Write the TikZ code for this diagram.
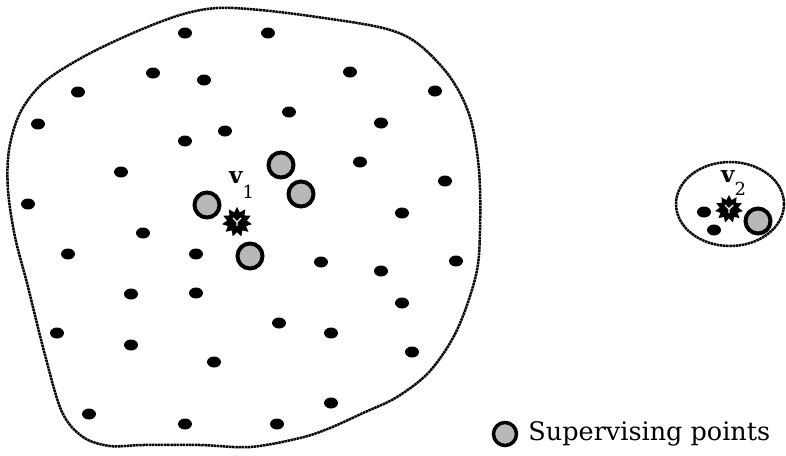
\documentclass[tikz,border=0pt]{standalone}
\usepackage{fontspec}
\usetikzlibrary{positioning,shapes.geometric}
\newfontfamily\bookfont{DejaVu Serif}
\definecolor{supgray}{HTML}{B8B8B8}

\begin{document}
\begin{tikzpicture}[x=1pt,y=-1pt,
    dot/.style={ellipse,fill=black,minimum width=14pt,minimum height=11pt,inner sep=0pt},
    sup/.style={circle,draw=black,line width=4pt,fill=supgray,minimum size=25pt,inner sep=0pt},
    burst/.style={star,star points=11,star point ratio=1.5,fill=black,minimum size=30pt,inner sep=0pt},
    rim/.style={line width=2.5pt,dash pattern=on 2.5pt off 0.6pt},
    vlabel/.style={font=\bookfont\fontsize{23}{25}\selectfont,inner sep=0pt,anchor=base west}]
  \useasboundingbox (0,0) rectangle (786,455);
  % large cluster
  \draw[rim] plot[smooth cycle,tension=0.55] coordinates {(217,8) (260,10) (317,17) (383,28) (417,43)
    (450,77) (470,117) (479,170) (480,230) (476,275) (457,330) (430,371) (397,397) (363,413)
    (330,428) (300,438) (250,447) (200,445) (143,445) (110,446) (83,437) (62,412) (45,355)
    (27,283) (15,237) (8,190) (9,150) (20,113) (43,83) (83,57) (133,33) (180,15)};
  \foreach \x/\y [count=\i] in {185/33,268/33,153/73,204/80,350/72,435/91,78/92,289/112,38/124,
      225/131,185/141,381/123,121/172,360/162,445/181,28/204,402/213,143/233,68/254,196/254,
      321/262,381/271,456/261,131/294,196/293,402/303,279/323,331/333,57/333,131/345,412/352,
      214/362,89/414,185/424,277/424,331/403}
    \node[dot] (d\i) at (\x,\y) {};
  \node[sup] (s1) at (281,165) {};
  \node[sup] (s2) at (301,194) {};
  \node[sup] (s3) at (207,205) {};
  \node[sup] (s4) at (250,256) {};
  \node[burst] (c1) at (237,222) {};
  \draw[white,line width=1.4pt] ([shift={(-4,-4)}]c1.center) -- (c1.center) -- ([shift={(4,-4)}]c1.center)
    (c1.center) -- ([shift={(0,4)}]c1.center);
  \node[vlabel] (v1) at (229,183) {\bfseries v\raisebox{-15pt}{\mdseries\fontsize{18}{20}\selectfont 1}};
  % small cluster
  \draw[rim] (730,204) ellipse [x radius=54pt,y radius=42pt];
  \node[dot] (e1) at (704,212) {};
  \node[dot] (e2) at (714,230) {};
  \node[sup] (s5) at (758,221) {};
  \node[burst,minimum size=28pt] (c2) at (729,209) {};
  \draw[white,line width=1.4pt] ([shift={(-4,-4)}]c2.center) -- (c2.center) -- ([shift={(4,-4)}]c2.center)
    (c2.center) -- ([shift={(0,4)}]c2.center);
  \node[vlabel] (v2) at (721,182) {\bfseries v\raisebox{-13pt}{\mdseries\fontsize{18}{20}\selectfont 2}};
  % legend
  \node[sup,minimum size=23pt,line width=3.5pt] (key) at (505,434) {};
  \node[right=10pt of key,inner sep=0pt,font=\bookfont\fontsize{25.5}{28}\selectfont] (keytext) {Supervising points};
\end{tikzpicture}
\end{document}
